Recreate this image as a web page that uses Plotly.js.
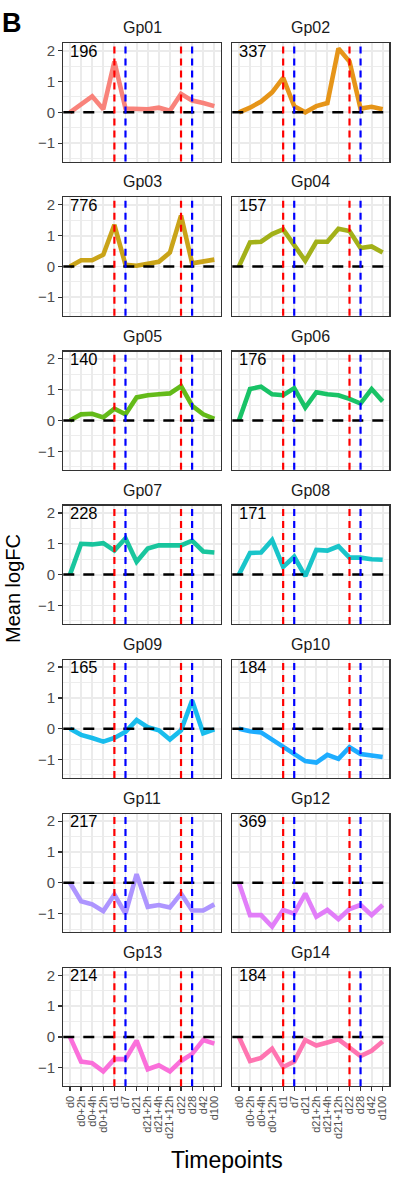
<!DOCTYPE html>
<html>
<head>
<meta charset="utf-8">
<script src="https://cdn.plot.ly/plotly-3.0.1.min.js"></script>
<style>
  html, body { margin: 0; padding: 0; background: #ffffff; }
  #chart { width: 410px; height: 1200px; }
</style>
</head>
<body>
<div id="chart"></div>
<script>
// ---------- DATA ----------
const categories = ['d0','d0+2h','d0+4h','d0+12h','d1','d7','d21','d21+2h','d21+4h','d21+12h','d22','d28','d42','d100'];
const groupNames = ['Gp01','Gp02','Gp03','Gp04','Gp05','Gp06','Gp07','Gp08','Gp09','Gp10','Gp11','Gp12','Gp13','Gp14'];
const groupCounts = [196, 337, 776, 157, 140, 176, 228, 171, 165, 184, 217, 369, 214, 184];

const gp01 = [0, 0.28, 0.52, 0.1, 1.65, 0.12, 0.12, 0.1, 0.15, 0.05, 0.6, 0.38, 0.3, 0.2];
const gp02 = [0, 0.15, 0.35, 0.65, 1.12, 0.2, 0.0, 0.2, 0.3, 2.07, 1.65, 0.12, 0.18, 0.1];
const gp03 = [0, 0.2, 0.2, 0.38, 1.35, 0.05, 0.02, 0.1, 0.15, 0.45, 1.65, 0.1, 0.15, 0.22];
const gp04 = [0, 0.78, 0.8, 1.05, 1.2, 0.72, 0.18, 0.8, 0.8, 1.22, 1.15, 0.6, 0.65, 0.45];
const gp05 = [0, 0.2, 0.22, 0.1, 0.38, 0.2, 0.75, 0.82, 0.85, 0.88, 1.12, 0.48, 0.2, 0.05];
const gp06 = [0, 1.02, 1.1, 0.85, 0.82, 1.05, 0.42, 0.92, 0.85, 0.82, 0.7, 0.55, 1.02, 0.62];
const gp07 = [0, 1.0, 0.98, 1.02, 0.78, 1.18, 0.42, 0.85, 0.95, 0.95, 0.95, 1.1, 0.75, 0.72];
const gp08 = [0, 0.7, 0.72, 1.12, 0.25, 0.58, -0.05, 0.8, 0.78, 0.92, 0.55, 0.55, 0.5, 0.48];
const gp09 = [0, -0.2, -0.3, -0.42, -0.3, -0.1, 0.28, 0.05, -0.05, -0.35, -0.05, 0.92, -0.15, -0.02];
const gp10 = [0, -0.08, -0.12, -0.35, -0.55, -0.78, -1.05, -1.1, -0.85, -0.98, -0.6, -0.82, -0.88, -0.92];
const gp11 = [0, -0.6, -0.7, -0.92, -0.38, -1.0, 0.28, -0.78, -0.72, -0.8, -0.35, -0.9, -0.9, -0.7];
const gp12 = [0, -1.05, -1.05, -1.42, -0.88, -1.0, -0.35, -1.1, -0.88, -1.18, -0.85, -0.72, -1.05, -0.72];
const gp13 = [0, -0.8, -0.85, -1.12, -0.72, -0.72, -0.12, -1.05, -0.92, -1.12, -0.78, -0.55, -0.1, -0.22];
const gp14 = [0, -0.78, -0.68, -0.38, -0.98, -0.8, -0.1, -0.28, -0.18, -0.08, -0.35, -0.62, -0.45, -0.15];

const groupColors = ['#F8766D','#E38900','#C49A00','#99A800','#53B400','#00BC56','#00C094',
                     '#00BFC4','#00B6EB','#06A4FF','#A58AFF','#DF70F8','#FB61D7','#FF66A8'];

const redLines = ['d1', 'd22'];
const blueLines = ['d7', 'd28'];
const yTickVals = [-1, 0, 1, 2];
const countLabelY = 2;

const xTitle = 'Timepoints';
const yTitle = 'Mean logFC';
const panelTag = 'B';

// ---------- LAYOUT ----------
const series = [gp01, gp02, gp03, gp04, gp05, gp06, gp07, gp08, gp09, gp10, gp11, gp12, gp13, gp14];
const W = 410, H = 1200;
const colX = [[63.3, 221], [232.3, 389.3]];
const rowTop0 = 43.3, rowPitch = 154.1, panelH = 118.3;
const FONT = 'Liberation Sans, Arial, Helvetica, sans-serif';

const px2x = p => p / W;
const px2y = p => 1 - p / H;

const data = [];
const layout = {
  width: W, height: H, autosize: false,
  margin: {l: 0, r: 0, t: 0, b: 0, pad: 0},
  paper_bgcolor: '#ffffff', plot_bgcolor: '#ffffff',
  showlegend: false,
  font: {family: FONT, color: '#1A1A1A'},
  shapes: [], annotations: []
};

for (let k = 0; k < series.length; k++) {
  const row = Math.floor(k / 2), col = k % 2;
  const sfx = k === 0 ? '' : String(k + 1);
  const xa = 'x' + sfx, ya = 'y' + sfx;
  const top = rowTop0 + row * rowPitch, bot = top + panelH;
  const isBottom = row === 6, isLeft = col === 0;

  data.push({
    type: 'scatter', mode: 'lines',
    x: categories, y: series[k],
    xaxis: xa, yaxis: ya,
    line: {color: groupColors[k], width: 4.6},
    opacity: 0.9,
    hoverinfo: 'skip'
  });

  layout['xaxis' + sfx] = {
    type: 'category', categoryorder: 'array', categoryarray: categories,
    range: [-0.6, categories.length - 1 + 0.6],
    domain: [px2x(colX[col][0]), px2x(colX[col][1])],
    anchor: ya,
    tickmode: 'array', tickvals: categories, ticktext: categories,
    showgrid: true, gridcolor: '#EBEBEB', gridwidth: 1.8,
    zeroline: false,
    showline: true, mirror: true, linecolor: '#333333', linewidth: 1.2,
    showticklabels: isBottom,
    ticks: isBottom ? 'outside' : '', ticklen: 4, tickwidth: 1.2, tickcolor: '#333333',
    tickangle: -90,
    tickfont: {family: FONT, size: 11, color: '#4D4D4D'},
    fixedrange: true
  };
  layout['yaxis' + sfx] = {
    range: [-1.6, 2.24],
    domain: [px2y(bot), px2y(top)],
    anchor: xa,
    tickmode: 'array', tickvals: yTickVals,
    showgrid: true, gridcolor: '#EBEBEB', gridwidth: 1.8,
    minor: {dtick: 0.5, tick0: 0, showgrid: true, gridcolor: '#EBEBEB', gridwidth: 0.9, ticks: ''},
    zeroline: false,
    showline: true, mirror: true, linecolor: '#333333', linewidth: 1.2,
    showticklabels: isLeft,
    ticks: isLeft ? 'outside' : '', ticklen: 4, tickwidth: 1.2, tickcolor: '#333333',
    tickfont: {family: FONT, size: 15, color: '#4D4D4D'},
    fixedrange: true
  };

  // horizontal dashed zero line
  layout.shapes.push({
    type: 'line', layer: 'above',
    xref: xa + ' domain', x0: 0, x1: 1,
    yref: ya, y0: 0, y1: 0,
    line: {color: '#000000', width: 2.5, dash: '11px,9px'}
  });
  // vertical dashed lines
  redLines.forEach(c => {
    const i = categories.indexOf(c);
    layout.shapes.push({
      type: 'line', layer: 'above',
      xref: xa, x0: i, x1: i,
      yref: ya + ' domain', y0: 0, y1: 1,
      line: {color: '#FF0000', width: 2.2, dash: '7px,5px'}
    });
  });
  blueLines.forEach(c => {
    const i = categories.indexOf(c);
    layout.shapes.push({
      type: 'line', layer: 'above',
      xref: xa, x0: i, x1: i,
      yref: ya + ' domain', y0: 0, y1: 1,
      line: {color: '#0000FF', width: 2.2, dash: '7px,5px'}
    });
  });

  // strip title
  layout.annotations.push({
    xref: 'paper', yref: 'paper',
    x: px2x((colX[col][0] + colX[col][1]) / 2), y: px2y(top - 15.5),
    xanchor: 'center', yanchor: 'middle',
    text: groupNames[k], showarrow: false,
    font: {family: FONT, size: 16, color: '#1A1A1A'}
  });
  // count label
  layout.annotations.push({
    xref: xa, yref: ya,
    x: 0, y: countLabelY,
    xanchor: 'left', yanchor: 'middle', xshift: -2,
    text: String(groupCounts[k]), showarrow: false,
    font: {family: FONT, size: 16.5, color: '#000000'}
  });
}

// axis titles and tag
layout.annotations.push({
  xref: 'paper', yref: 'paper', x: px2x(227), y: px2y(1160),
  xanchor: 'center', yanchor: 'middle', showarrow: false,
  text: xTitle, font: {family: FONT, size: 23, color: '#000000'}
});
layout.annotations.push({
  xref: 'paper', yref: 'paper', x: px2x(13), y: px2y(589),
  xanchor: 'center', yanchor: 'middle', showarrow: false, textangle: -90,
  text: yTitle, font: {family: FONT, size: 20, color: '#000000'}
});
layout.annotations.push({
  xref: 'paper', yref: 'paper', x: px2x(0), y: px2y(23),
  xanchor: 'left', yanchor: 'middle', showarrow: false,
  text: '<b>' + panelTag + '</b>', font: {family: FONT, size: 27, color: '#000000'}
});

Plotly.newPlot('chart', data, layout, {displayModeBar: false, staticPlot: true});
</script>
</body>
</html>
